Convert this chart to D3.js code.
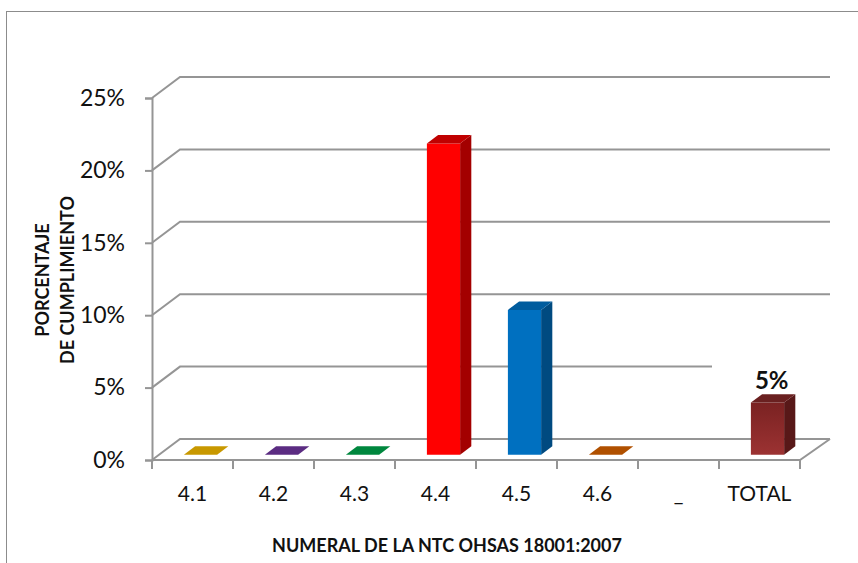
<!DOCTYPE html>
<html>
<head>
<meta charset="utf-8">
<script src="https://cdn.jsdelivr.net/npm/d3@7"></script>
<style>
  body { margin: 0; background: #fff; }
  svg { display: block; font-family: Lato, "Open Sans", sans-serif; }
</style>
</head>
<body>
<svg id="chart" width="858" height="563"></svg>
<script>
// data
const categories = ["4.1", "4.2", "4.3", "4.4", "4.5", "4.6", "_", "TOTAL"];
const values = [0, 0, 0, 0.215, 0.10, 0, null, 0.036];
const barLabels = ["", "", "", "", "", "", "", "5%"];
const frontColors = ["#c89800", "#5b2c82", "#00873e", "#ff0000", "#0070c0", "#b05000", null, "#8a2a2a"];
const sideColors = ["#a07800", "#442060", "#006a30", "#a30000", "#004a80", "#8a3e00", null, "#581818"];
const topColors = ["#c89800", "#5b2c82", "#00873e", "#c00000", "#005c9e", "#b05000", null, "#6a2020"];
const yTicks = [0, 0.05, 0.10, 0.15, 0.20, 0.25];

const svg = d3.select("#chart");
const DX = 28, DY = 21; // depth offset of the back wall

const x = d3.scaleBand().domain(categories).range([152, 800]);
const y = d3.scaleLinear().domain([0, 0.25]).range([460, 98]);

// project a point (px on front plane, value, depth 0..1)
const proj = (px, v, d) => [px + d * DX, y(v) - d * DY];

// outer border
svg.append("rect")
  .attr("x", 6.5).attr("y", 11.5)
  .attr("width", 900).attr("height", 600)
  .attr("fill", "none").attr("stroke", "#8c8c8c");

const gridColor = "#959595";

// gridlines: left wall diagonal + back wall
const grid = svg.append("g");
yTicks.forEach(t => {
  const p0 = proj(152, t, 0), p1 = proj(152, t, 1), p2 = proj(800, t, 1);
  grid.append("path")
    .attr("d", `M${p0}L${p1}L${p2[0] + 2},${p2[1]}`)
    .attr("fill", "none").attr("stroke", gridColor).attr("stroke-width", 2);
});

// floor front and right edges
const f0 = proj(152, 0, 0), f1 = proj(800, 0, 0), f2 = proj(800, 0, 1);
grid.append("path")
  .attr("d", `M${f0}L${f1}L${f2[0] + 2},${f2[1]}`)
  .attr("fill", "none").attr("stroke", gridColor).attr("stroke-width", 2);

// y axis
const yAxis = d3.axisLeft(y)
  .tickValues(yTicks)
  .tickFormat(d3.format(".0%"))
  .tickSize(7)
  .tickPadding(20);
const ya = svg.append("g").attr("transform", "translate(152,0)").call(yAxis);
ya.select(".domain").attr("stroke", gridColor).attr("stroke-width", 2);
ya.selectAll(".tick line").attr("stroke", gridColor).attr("stroke-width", 2);
ya.selectAll(".tick text")
  .attr("font-family", "Lato, sans-serif")
  .attr("font-size", 23).attr("fill", "#111");

// x axis
const xAxis = d3.axisBottom(x).tickSize(0).tickPadding(26);
const xa = svg.append("g").attr("transform", `translate(0,${y(0)})`).call(xAxis);
xa.select(".domain").remove();
xa.selectAll(".tick text")
  .attr("font-family", "Lato, sans-serif")
  .attr("font-size", 21).attr("fill", "#111");
// category separators
const seps = categories.map(c => x(c)).concat([x.range()[1]]);
svg.append("g").selectAll("line").data(seps).join("line")
  .attr("x1", d => d).attr("x2", d => d)
  .attr("y1", y(0)).attr("y2", y(0) + 9)
  .attr("stroke", gridColor).attr("stroke-width", 2);

// white box behind the data label (hides the grid like the original)
svg.append("rect")
  .attr("x", 712).attr("y", 355).attr("width", 125).attr("height", 38)
  .attr("fill", "#fff");

// gradient for TOTAL bar
const defs = svg.append("defs");
const grad = defs.append("linearGradient").attr("id", "totalGrad")
  .attr("x1", 0).attr("y1", 0).attr("x2", 0).attr("y2", 1);
grad.append("stop").attr("offset", "0%").attr("stop-color", "#7a2222");
grad.append("stop").attr("offset", "100%").attr("stop-color", "#9c3232");

// 3D bars
const bw = x.bandwidth() * 0.41;
const d0 = 0.25, d1 = 0.65;
const bars = categories.map((c, i) => ({ c, v: values[i], i })).filter(d => d.v !== null);
const bg = svg.append("g");
bars.forEach(d => {
  const xl = x(d.c) + (x.bandwidth() - bw) / 2 + 1;
  const xr = xl + bw;
  const poly = pts => pts.map(p => p.join(",")).join(" ");
  if (d.v > 0) {
    // side face
    bg.append("polygon")
      .attr("points", poly([proj(xr, 0, d0), proj(xr, 0, d1), proj(xr, d.v, d1), proj(xr, d.v, d0)]))
      .attr("fill", sideColors[d.i]);
    // front face
    bg.append("polygon")
      .attr("points", poly([proj(xl, 0, d0), proj(xr, 0, d0), proj(xr, d.v, d0), proj(xl, d.v, d0)]))
      .attr("fill", d.c === "TOTAL" ? "url(#totalGrad)" : frontColors[d.i]);
  }
  // top face
  bg.append("polygon")
    .attr("points", poly([proj(xl, d.v, d0), proj(xr, d.v, d0), proj(xr, d.v, d1), proj(xl, d.v, d1)]))
    .attr("fill", topColors[d.i]);
  if (barLabels[d.i]) {
    const lx = (xl + xr) / 2 + 0.4 * DX;
    bg.append("text")
      .attr("x", lx).attr("y", y(d.v) - 19)
      .attr("text-anchor", "middle")
      .attr("font-size", 24).attr("font-weight", "bold").attr("fill", "#111")
      .text(barLabels[d.i]);
  }
});

// axis titles
svg.append("text")
  .attr("x", 447).attr("y", 552)
  .attr("text-anchor", "middle")
  .attr("font-size", 18).attr("font-weight", "bold").attr("fill", "#111")
  .text("NUMERAL DE LA NTC OHSAS 18001:2007");

const yt = svg.append("text")
  .attr("transform", "translate(0,280) rotate(-90)")
  .attr("text-anchor", "middle")
  .attr("font-size", 18).attr("font-weight", "bold").attr("fill", "#111");
yt.append("tspan").attr("x", 0).attr("y", 49).text("PORCENTAJE");
yt.append("tspan").attr("x", 0).attr("y", 74).text("DE CUMPLIMIENTO");
</script>
</body>
</html>
